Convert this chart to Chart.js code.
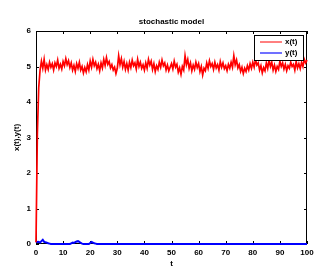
<!DOCTYPE html>
<html>
<head>
<meta charset="utf-8">
<script src="https://cdn.jsdelivr.net/npm/chart.js@4"></script>
<style>
  html,body{margin:0;padding:0;background:#fff;}
  #wrap{width:326px;height:273px;}
</style>
</head>
<body>
<div id="wrap"><canvas id="c" width="326" height="273"></canvas></div>
<script>
// sample grid for x(t): every 0.5 time unit, 0..100
const tStep = 0.5;

// x(t)
const xVals = [
  0.05, 3.1, 4.4, 4.9, 5.15, 4.95, 5.2, 4.9, 5.05, 4.92,
  5.12, 4.98, 5.08, 4.9, 5.1, 5.0, 5.18, 4.95, 5.06, 4.93,
  5.14, 5.02, 5.22, 5.05, 5.16, 4.97, 5.1, 4.9, 5.03, 4.86,
  5.08, 4.95, 5.12, 4.9, 5.0, 4.82, 4.97, 4.85, 5.05, 4.9,
  5.15, 4.98, 5.2, 5.02, 5.12, 4.94, 5.06, 4.88, 5.1, 4.96,
  5.2, 5.03, 5.25, 5.06, 5.14, 4.96, 5.05, 4.9, 4.98, 4.8,
  4.95, 5.3, 5.05, 5.22, 4.98, 5.14, 4.92, 5.08, 4.9, 5.12,
  4.97, 5.18, 5.02, 5.1, 4.93, 5.2, 5.0, 5.12, 4.95, 5.05,
  4.9, 5.1, 4.95, 5.2, 5.04, 5.15, 4.92, 5.08, 4.86, 5.02,
  4.92, 5.12, 4.98, 5.18, 5.02, 5.1, 4.9, 5.04, 4.88, 4.98,
  5.08, 4.93, 5.15, 4.98, 5.06, 4.84, 4.96, 4.78, 5.0, 4.9,
  5.3, 5.05, 5.2, 4.95, 5.1, 4.88, 5.04, 4.92, 5.12, 4.97,
  5.08, 4.86, 5.0, 4.76, 4.95, 4.88, 5.1, 4.95, 5.16, 5.0,
  5.08, 4.92, 5.12, 4.96, 5.05, 4.9, 5.14, 4.98, 5.1, 4.94,
  5.02, 4.88, 5.06, 4.95, 5.12, 4.98, 5.3, 5.05, 5.18, 4.96,
  5.05, 4.86, 4.98, 4.8, 4.95, 4.86, 5.02, 4.9, 5.08, 4.95,
  5.12, 4.98, 5.2, 5.04, 5.1, 4.9, 5.02, 4.82, 4.97, 4.88,
  5.1, 4.95, 5.18, 5.0, 5.12, 4.9, 5.04, 4.86, 5.0, 4.92,
  5.15, 5.0, 5.1, 4.93, 5.06, 4.88, 5.02, 4.95, 5.12, 5.0,
  5.06, 4.9, 5.14, 4.96, 5.08, 4.94, 5.12, 5.0, 5.2, 5.1, 5.18
];

// y(t) only moves early on, then sits at zero
const yTimes = [0, 0.5, 1, 1.5, 2, 2.5, 3, 3.5, 4, 4.5, 5, 5.5, 12.5, 13, 13.5, 14, 14.5, 15, 15.5, 16, 16.5, 17, 17.5, 19.5, 20, 20.5, 21, 21.5, 22, 22.5, 100];
const yVals  = [0.08, 0.05, 0.06, 0.04, 0.08, 0.12, 0.06, 0.05, 0.04, 0.02, 0.01, 0, 0, 0.02, 0.04, 0.03, 0.05, 0.07, 0.08, 0.06, 0.03, 0.01, 0, 0, 0.03, 0.06, 0.04, 0.02, 0.01, 0, 0];

const xTicks = [0, 10, 20, 30, 40, 50, 60, 70, 80, 90, 100];
const yTicks = [0, 1, 2, 3, 4, 5, 6];
const seriesNames = ['x(t)', 'y(t)'];
const chartTitle = 'stochastic model';

const FONT = '"Liberation Sans", Arial, sans-serif';

// matlab-ish box with inward ticks on all four sides, drawn under the lines
const boxPlugin = {
  id: 'mbox',
  beforeDatasetsDraw(chart){
    const {ctx, chartArea:a, scales:{x, y}} = chart;
    ctx.save();
    ctx.strokeStyle = '#000';
    ctx.lineWidth = 1;
    ctx.strokeRect(a.left + 0.5, a.top + 0.5, a.right - a.left - 1, a.bottom - a.top - 1);
    ctx.beginPath();
    xTicks.forEach(v=>{
      const px = Math.round(x.getPixelForValue(v)) + 0.5;
      ctx.moveTo(px, a.bottom); ctx.lineTo(px, a.bottom - 3);
      ctx.moveTo(px, a.top); ctx.lineTo(px, a.top + 3);
    });
    yTicks.forEach(v=>{
      const py = Math.round(y.getPixelForValue(v)) + 0.5;
      ctx.moveTo(a.left, py); ctx.lineTo(a.left + 3, py);
      ctx.moveTo(a.right, py); ctx.lineTo(a.right - 3, py);
    });
    ctx.stroke();

    // title, centred over the axes box
    ctx.fillStyle = '#000';
    ctx.font = 'bold 8px ' + FONT;
    ctx.textAlign = 'center';
    ctx.textBaseline = 'middle';
    ctx.fillText(chartTitle, (a.left + a.right) / 2, 22);
    ctx.restore();
  },
  // legend sits inside the axes, top-right
  afterDatasetsDraw(chart){
    const {ctx, chartArea:a} = chart;
    ctx.save();
    const lx = a.right - 53, ly = a.top + 4, lw = 49, lh = 25;
    ctx.fillStyle = '#fff';
    ctx.fillRect(lx, ly, lw, lh);
    ctx.strokeStyle = '#000';
    ctx.lineWidth = 1;
    ctx.strokeRect(lx + 0.5, ly + 0.5, lw, lh);
    ctx.font = 'bold 8px ' + FONT;
    ctx.textBaseline = 'middle';
    chart.data.datasets.forEach((ds, i)=>{
      const yy = ly + 7 + i * 11;
      ctx.strokeStyle = i === 0 ? '#ff0000' : '#7070ff';
      ctx.lineWidth = i === 0 ? 1 : 2;
      ctx.beginPath();
      ctx.moveTo(lx + 6, yy); ctx.lineTo(lx + 28, yy);
      ctx.stroke();
      ctx.fillStyle = '#000';
      ctx.fillText(ds.label, lx + 31, yy);
    });
    ctx.restore();
  }
};

new Chart(document.getElementById('c'), {
  type: 'line',
  data: {
    datasets: [
      {
        label: seriesNames[0],
        data: xVals.map((v, i)=>({x: i * tStep, y: v})),
        borderColor: '#ff0000',
        borderWidth: 1.7,
        pointRadius: 0,
        tension: 0,
        clip: 2
      },
      {
        label: seriesNames[1],
        data: yTimes.map((t, i)=>({x: t, y: yVals[i]})),
        borderColor: '#0000ff',
        borderWidth: 2,
        pointRadius: 0,
        tension: 0,
        clip: 2
      }
    ]
  },
  options: {
    responsive: false,
    animation: false,
    layout: { padding: { left: 0, right: 19, top: 31, bottom: 4 } },
    plugins: {
      legend: { display: false },
      tooltip: { enabled: false },
      title: { display: false }
    },
    scales: {
      x: {
        type: 'linear',
        min: 0, max: 100,
        afterBuildTicks: s => { s.ticks = xTicks.map(v=>({value: v})); },
        afterFit: s => { s.height = 25; },
        grid: { display: false, drawTicks: false },
        border: { display: false },
        ticks: { color: '#000', font: { family: FONT, size: 8, weight: 'bold' }, padding: 4, maxRotation: 0 },
        title: { display: true, text: 't', color: '#000', font: { family: FONT, size: 8, weight: 'bold' }, padding: 0 }
      },
      y: {
        min: 0, max: 6,
        afterBuildTicks: s => { s.ticks = yTicks.map(v=>({value: v})); },
        afterFit: s => { s.width = 36; },
        grid: { display: false, drawTicks: false },
        border: { display: false },
        ticks: { color: '#000', font: { family: FONT, size: 8, weight: 'bold' }, padding: 5 },
        title: { display: true, text: 'x(t),y(t)', color: '#000', font: { family: FONT, size: 8, weight: 'bold' }, padding: { top: 12, bottom: 0 } }
      }
    }
  },
  plugins: [boxPlugin]
});
</script>
</body>
</html>
